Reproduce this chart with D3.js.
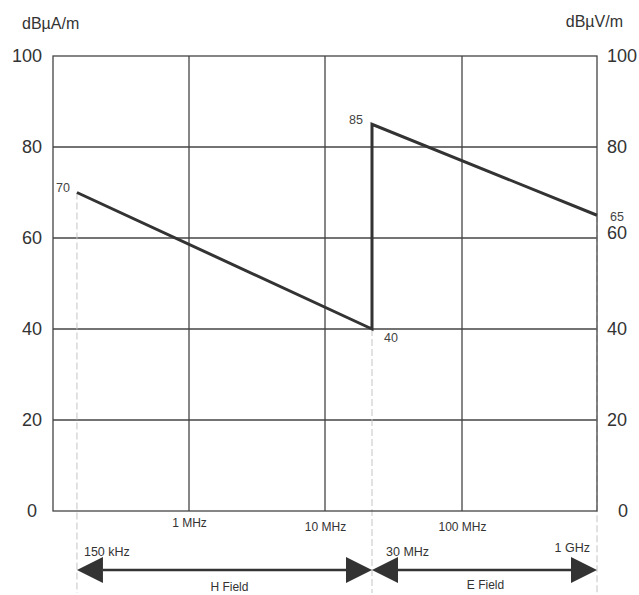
<!DOCTYPE html>
<html>
<head>
<meta charset="utf-8">
<script src="https://cdn.jsdelivr.net/npm/d3@7"></script>
<style>
  body { margin: 0; background: #fff; }
  svg { font-family: "Liberation Sans", Arial, sans-serif; }
</style>
</head>
<body>
<svg id="chart" width="639" height="595"></svg>
<script>
// limit line: frequency (Hz) and level
var freqs = [150e3, 30e6, 30e6, 1e9]
var levels = [70, 40, 85, 65]

// axis ticks
var yTicks = [0, 20, 40, 60, 80, 100]
var xTicks = [1e6, 1e7, 1e8]
var xTickLabels = ["1 MHz", "10 MHz", "100 MHz"]

// frequency markers under the plot
var markerFreqs = [150e3, 30e6, 1e9]
var markerLabels = ["150 kHz", "30 MHz", "1 GHz"]

// field ranges
var fieldNames = ["H Field", "E Field"]
var fieldFrom = [150e3, 30e6]
var fieldTo = [30e6, 1e9]

var svg = d3.select("#chart")
var ink = "#333"

// the printed chart is not a clean log scale, so pin the decades where they sit
var x = d3.scaleLog()
    .domain([1e5, 1e6, 1e7, 3e7, 1e8, 1e9])
    .range([53, 189, 325, 372, 462, 597])
var y = d3.scaleLinear().domain([0, 100]).range([511, 56])

// grid
svg.append("g").selectAll("line").data(yTicks.slice(1, -1)).join("line")
    .attr("x1", 53).attr("x2", 597)
    .attr("y1", d => y(d)).attr("y2", d => y(d))
    .attr("stroke", "#444").attr("stroke-width", 1.3)
svg.append("g").selectAll("line").data(xTicks).join("line")
    .attr("x1", d => x(d)).attr("x2", d => x(d))
    .attr("y1", y(0)).attr("y2", y(100))
    .attr("stroke", "#444").attr("stroke-width", 1.3)

// dashed marker lines
svg.append("g").selectAll("line").data(markerFreqs).join("line")
    .attr("x1", d => x(d)).attr("x2", d => x(d))
    .attr("y1", (d, i) => y([70, 40, 65][i])).attr("y2", 593)
    .attr("stroke", "#c4c4c4").attr("stroke-width", 1)
    .attr("stroke-dasharray", "7,3")

// frame
svg.append("rect")
    .attr("x", 53).attr("y", y(100))
    .attr("width", 597 - 53).attr("height", y(0) - y(100))
    .attr("fill", "none").attr("stroke", "#444").attr("stroke-width", 1.3)

// limit line
var pts = freqs.map((f, i) => [f, levels[i]])
svg.append("path")
    .datum(pts)
    .attr("d", d3.line().x(d => x(d[0])).y(d => y(d[1])))
    .attr("fill", "none").attr("stroke", ink).attr("stroke-width", 3)
    .attr("stroke-linejoin", "miter")

// point labels
var offs = [[-7, -5, "end"], [12, 9, "start"], [-9, -5, "end"], [13, 1, "start"]]
svg.append("g").selectAll("text").data(pts).join("text")
    .attr("x", (d, i) => x(d[0]) + offs[i][0])
    .attr("y", (d, i) => y(d[1]) + offs[i][1])
    .attr("dy", "0.35em")
    .attr("text-anchor", (d, i) => offs[i][2])
    .attr("font-size", 12.5).attr("fill", "#444")
    .text(d => d[1])

// y axes
var yl = svg.append("g").attr("transform", "translate(42,0)")
    .call(d3.axisLeft(y).tickValues(yTicks).tickSize(0).tickPadding(0))
var yr = svg.append("g").attr("transform", "translate(607,0)")
    .call(d3.axisRight(y).tickValues(yTicks).tickSize(0).tickPadding(0))
svg.selectAll(".domain").remove()
svg.selectAll(".tick text").attr("font-size", 18).attr("fill", "#333")
    .attr("font-family", "Liberation Sans, Arial, sans-serif")
yr.selectAll(".tick text").filter(d => d === 60).attr("y", -5)
yr.selectAll(".tick text").filter(d => d === 0).attr("x", 11)
yl.selectAll(".tick text").filter(d => d === 0).attr("x", -5)

svg.append("text").attr("x", 22).attr("y", 29)
    .attr("font-size", 16).attr("fill", "#333").text("dBµA/m")
svg.append("text").attr("x", 623).attr("y", 27).attr("text-anchor", "end")
    .attr("font-size", 16).attr("fill", "#333").text("dBµV/m")

// x axis labels
var xa = svg.append("g").attr("transform", "translate(0," + y(0) + ")")
    .call(d3.axisBottom(x).tickValues(xTicks).tickFormat((d, i) => xTickLabels[i])
        .tickSize(0).tickPadding(7))
xa.select(".domain").remove()
xa.selectAll(".tick text").attr("font-size", 12).attr("fill", "#333")
    .attr("font-family", "Liberation Sans, Arial, sans-serif")
xa.selectAll(".tick text").filter(d => d > 1e6).attr("dy", "1.05em")

// marker labels
var mAnchor = ["start", "start", "end"]
var mDx = [7, 14, -7]
svg.append("g").selectAll("text").data(markerFreqs).join("text")
    .attr("x", (d, i) => x(d) + mDx[i])
    .attr("y", (d, i) => i == 2 ? 552 : 556)
    .attr("text-anchor", (d, i) => mAnchor[i])
    .attr("font-size", 12.5).attr("fill", "#333")
    .text((d, i) => markerLabels[i])

// field arrows
var ay = 570, head = 26, hh = 13
var fields = fieldNames.map((n, i) => ({name: n, from: fieldFrom[i], to: fieldTo[i]}))
var fg = svg.append("g").selectAll("g").data(fields).join("g")
fg.append("line")
    .attr("x1", d => x(d.from) + head).attr("x2", d => x(d.to) - head)
    .attr("y1", ay).attr("y2", ay)
    .attr("stroke", ink).attr("stroke-width", 2.5)
fg.append("path")
    .attr("d", d => {
        var a = x(d.from), b = x(d.to)
        return "M" + a + "," + ay + "L" + (a + head) + "," + (ay - hh) + "L" + (a + head) + "," + (ay + hh) + "Z" +
            "M" + b + "," + ay + "L" + (b - head) + "," + (ay - hh) + "L" + (b - head) + "," + (ay + hh) + "Z"
    })
    .attr("fill", ink)
fg.append("text")
    .attr("x", d => (x(d.from) + x(d.to)) / 2 + (d.name == "H Field" ? 5 : 1))
    .attr("y", (d, i) => i == 0 ? 587 : 585)
    .attr("dy", "0.35em")
    .attr("text-anchor", "middle")
    .attr("font-size", 12).attr("fill", "#333")
    .text(d => d.name)
</script>
</body>
</html>
